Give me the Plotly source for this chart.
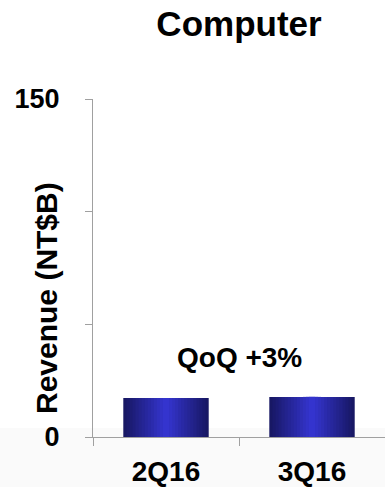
import plotly.graph_objects as go

categories = ["2Q16", "3Q16"]
revenue = [17.3, 17.8]
y_tickvals = [0, 50, 100, 150]
y_ticktext = ["0", "", "", "150"]
title_text = "Computer"
y_title = "Revenue (NT$B)"
qoq_text = "QoQ +3%"
qoq_y = 35.5

FONT = "Liberation Sans, Arial, sans-serif"

L, T, B = 93, 99, 50
PW = 385 - L
PH = 487 - T - B

fig = go.Figure()

# gradient bars: overlaid bars of decreasing width, dark edges -> bright center
n_layers = 14
full_w = 0.585
edge = (24, 24, 100)
center = (52, 52, 206)
for k in range(n_layers):
    t = k / (n_layers - 1)
    c = tuple(int(round(edge[i] + (center[i] - edge[i]) * t)) for i in range(3))
    w = full_w * (1 - k / n_layers)
    fig.add_trace(go.Bar(
        x=categories, y=revenue, width=w,
        marker=dict(color=f"rgb{c}", line=dict(width=0)),
        hoverinfo="skip", showlegend=False,
    ))

fig.update_layout(
    width=385, height=487,
    margin=dict(l=L, r=0, t=T, b=B),
    paper_bgcolor="white", plot_bgcolor="rgba(0,0,0,0)",
    barmode="overlay",
    showlegend=False,
    font=dict(family=FONT, color="black"),
    title=dict(text=f"<b>{title_text}</b>", x=0.5, xref="paper", xanchor="center",
               y=1 - 24 / 487, yanchor="middle",
               font=dict(size=35, family=FONT, color="black")),
    xaxis=dict(
        type="category", tickson="boundaries", ticks="outside", ticklen=8,
        tickcolor="#a0a0a0", showline=True, linecolor="#a0a0a0", linewidth=1,
        showgrid=False, zeroline=False, ticklabelstandoff=9,
        tickfont=dict(size=28, family=FONT, color="black", weight="bold"),
        range=[-0.5, 1.5],
    ),
    yaxis=dict(
        range=[0, 150], tickvals=y_tickvals, ticktext=y_ticktext,
        ticks="outside", ticklen=7, tickcolor="#a0a0a0",
        showline=True, linecolor="#a0a0a0", linewidth=1,
        showgrid=False, zeroline=False, ticklabelstandoff=20,
        tickfont=dict(size=27, family=FONT, color="black", weight="bold"),
    ),
    shapes=[dict(type="rect", xref="paper", yref="paper", x0=-0.35, x1=1.01,
                 y0=-0.16, y1=(437 - 428) / PH, fillcolor="#fafafa",
                 line=dict(width=0), layer="below")],
    annotations=[
        dict(text=f"<b>{y_title}</b>", xref="paper", yref="paper",
             x=(46 - L) / PW, y=(437 - 298) / PH, textangle=-90,
             showarrow=False, xanchor="center", yanchor="middle",
             font=dict(size=30, family=FONT, color="black")),
        dict(text=f"<b>{qoq_text}</b>", xref="paper", yref="y",
             x=(239.5 - L) / PW, y=qoq_y, showarrow=False, xanchor="center", yanchor="middle",
             font=dict(size=28, family=FONT, color="black")),
    ],
)

fig.write_html("out.html")
